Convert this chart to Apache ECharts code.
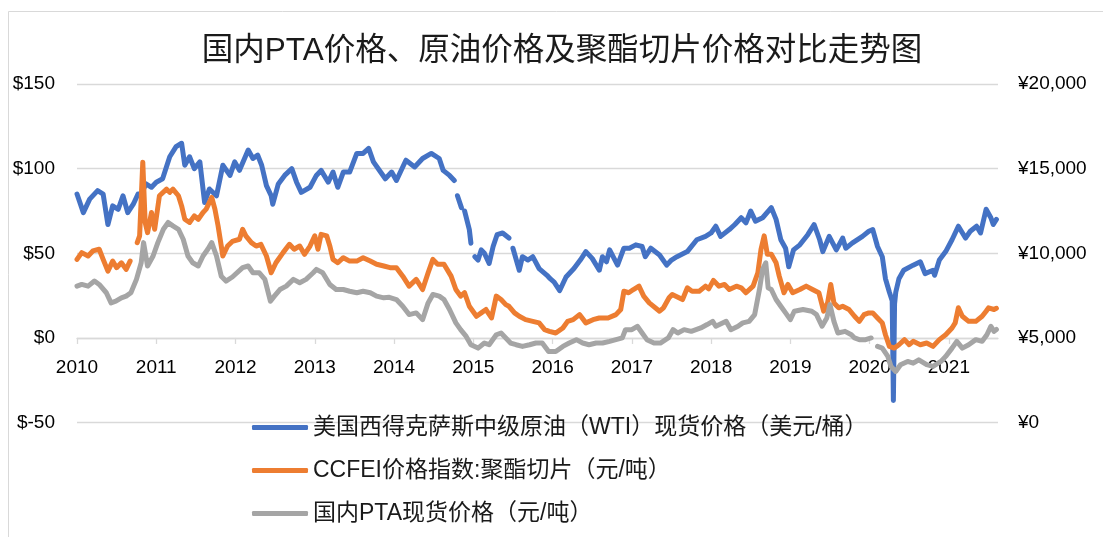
<!DOCTYPE html>
<html><head><meta charset="utf-8">
<script src="https://cdn.jsdelivr.net/npm/echarts@6/dist/echarts.min.js"></script>
<style>html,body{margin:0;padding:0;background:#fff}#c{width:1103px;height:537px}</style>
</head><body><div id="c"></div>
<script>
const chartTitle = '国内PTA价格、原油价格及聚酯切片价格对比走势图';
const seriesNames = ['美国西得克萨斯中级原油（WTI）现货价格（美元/桶）', 'CCFEI价格指数:聚酯切片（元/吨）', '国内PTA现货价格（元/吨）'];
const yearTicks = [2010, 2011, 2012, 2013, 2014, 2015, 2016, 2017, 2018, 2019, 2020, 2021];

// WTI spot, USD/bbl (left axis); null = gap in source data
const wtiDates = [2010.00,2010.08,2010.16,2010.26,2010.33,2010.39,2010.45,2010.52,2010.58,2010.64,2010.71,2010.77,2010.81,2010.87,2010.94,
2011.00,2011.08,2011.17,2011.25,2011.32,2011.36,2011.42,2011.48,2011.55,2011.61,2011.67,2011.76,2011.84,2011.93,2011.99,
2012.05,2012.16,2012.22,2012.28,2012.33,2012.39,2012.45,2012.47,2012.54,2012.62,2012.71,2012.77,2012.83,2012.94,
2013.02,2013.08,2013.17,2013.23,2013.29,2013.36,2013.44,2013.53,2013.61,2013.68,2013.74,2013.83,2013.89,2013.97,
2014.03,2014.15,2014.26,2014.36,2014.47,2014.57,2014.62,2014.70,2014.76,2014.78,2014.80,2014.85,2014.87,2014.89,2014.95,2014.97,2014.99,
2015.02,2015.06,2015.10,2015.14,2015.20,2015.25,2015.30,2015.37,2015.45,2015.47,2015.50,2015.58,2015.62,2015.69,2015.75,2015.83,2015.93,2015.97,
2016.02,2016.09,2016.17,2016.27,2016.35,2016.42,2016.50,2016.59,2016.63,2016.68,2016.72,2016.82,2016.90,2016.97,
2017.05,2017.13,2017.17,2017.24,2017.35,2017.44,2017.50,2017.57,2017.70,2017.82,2017.93,
2018.00,2018.06,2018.12,2018.23,2018.30,2018.38,2018.44,2018.50,2018.56,2018.65,2018.76,2018.82,2018.88,2018.94,2018.98,
2019.04,2019.12,2019.22,2019.30,2019.37,2019.41,2019.49,2019.58,2019.66,2019.70,2019.78,2019.91,2019.99,
2020.04,2020.10,2020.16,2020.20,2020.25,2020.285,2020.30,2020.315,2020.33,2020.37,2020.43,2020.55,2020.64,2020.70,2020.80,2020.82,2020.88,2020.96,
2021.04,2021.12,2021.21,2021.27,2021.35,2021.40,2021.47,2021.53,2021.56,2021.60];
const wtiPrices = [85,74,82,87,85,67,78,76,84,74,79,85,85,91,89,
92,94,107,113,115,102,107,100,104,80,88,84,102,96,104,
99,111,106,108,102,90,84,79,91,96,100,92,86,89,
96,99,92,98,89,98,98,109,109,112,104,98,94,98,
93,105,101,106,109,106,99,96,93,null,84,77,null,75,64,56,null,
48,46,52,50,44,54,61,62,59,null,53,40,48,46,48,41,37,35,
33,28,36,41,46,51,47,40,48,45,52,43,53,53,
55,54,48,53,49,43,46,48,51,58,60,
62,66,60,64,67,71,68,75,69,71,77,70,58,53,42,
52,55,61,67,58,51,60,52,59,53,56,60,63,
64,54,48,35,27,22,-37,20,27,35,40,43,45,38,40,37,46,51,
58,66,59,63,66,62,76,71,67,70];

// CCFEI polyester chip index, CNY/t (right axis)
const chipDates = [2010.00,2010.06,2010.14,2010.20,2010.28,2010.33,2010.39,2010.45,2010.50,2010.56,2010.62,2010.67,2010.72,2010.76,2010.79,2010.83,2010.86,2010.89,2010.94,2010.98,
2011.04,2011.13,2011.17,2011.21,2011.28,2011.32,2011.36,2011.42,2011.48,2011.53,2011.59,2011.63,2011.70,2011.74,2011.78,2011.84,2011.90,2011.96,
2012.05,2012.09,2012.13,2012.20,2012.26,2012.32,2012.39,2012.45,2012.51,2012.60,2012.68,2012.74,2012.81,2012.87,2012.94,
2013.00,2013.04,2013.08,2013.15,2013.19,2013.23,2013.29,2013.36,2013.44,2013.53,2013.61,2013.70,2013.78,2013.87,2013.95,
2014.03,2014.11,2014.19,2014.28,2014.36,2014.43,2014.49,2014.55,2014.63,2014.72,2014.78,2014.84,2014.89,2014.95,
2015.04,2015.10,2015.16,2015.23,2015.29,2015.35,2015.41,2015.45,2015.52,2015.58,2015.66,2015.75,2015.83,2015.90,2015.96,
2016.04,2016.13,2016.19,2016.26,2016.34,2016.42,2016.51,2016.59,2016.70,2016.80,2016.86,2016.90,2016.96,
2017.02,2017.09,2017.15,2017.22,2017.35,2017.40,2017.47,2017.51,2017.64,2017.70,2017.76,2017.85,2017.93,2017.97,
2018.03,2018.10,2018.17,2018.23,2018.32,2018.38,2018.44,2018.53,2018.59,2018.63,2018.67,2018.71,2018.76,2018.82,2018.86,2018.92,2018.97,
2019.03,2019.12,2019.20,2019.28,2019.36,2019.42,2019.47,2019.51,2019.55,2019.61,2019.66,2019.74,2019.81,2019.87,2019.93,2019.99,
2020.04,2020.10,2020.16,2020.20,2020.25,2020.31,2020.37,2020.44,2020.50,2020.55,2020.64,2020.72,2020.80,2020.88,2020.96,
2021.04,2021.08,2021.12,2021.17,2021.25,2021.34,2021.42,2021.47,2021.50,2021.57,2021.60];
const chipPrices = [9640,10040,9840,10140,10240,9640,8950,9540,9150,9440,9050,9540,null,10630,11030,15380,11820,11220,12410,11420,
13400,13790,13600,13790,13400,12800,12010,11820,12210,12010,12410,12610,13300,12610,11620,9840,10430,10700,
10830,11420,11030,10630,10430,10530,9840,8850,9440,10040,10530,10240,10430,9940,10430,
11030,10240,11120,11030,10430,9640,9440,9740,9540,9540,9740,9540,9350,9250,9150,
9150,8650,8060,8460,7860,8850,9640,9350,9350,8650,7860,7470,7670,6870,
6280,6480,6680,6180,7470,7270,6970,6870,6480,6280,6080,5980,5890,5490,5390,
5290,5590,5980,6080,6380,5890,6080,6180,6180,6380,6680,7760,7670,
7860,8060,7470,7070,6580,6780,7370,7570,7270,7960,7760,7760,8060,7900,
8400,8060,8160,7860,8060,7960,7670,8060,8850,10240,11030,9940,9940,9440,8650,7670,8160,
7670,7860,8060,7860,7670,6580,7070,8160,7070,6780,6870,6680,6280,5980,6380,6480,
6480,6180,5890,5190,4500,4400,4600,4900,4600,4800,4600,4700,4500,4900,5190,
5590,5890,6780,6280,5980,5980,6280,6580,6780,6680,6750];

// Domestic PTA spot, CNY/t (right axis)
const ptaDates = [2010.00,2010.06,2010.14,2010.22,2010.28,2010.37,2010.43,2010.49,2010.56,2010.62,2010.68,2010.75,2010.81,2010.84,2010.89,2010.96,
2011.02,2011.09,2011.15,2011.21,2011.28,2011.34,2011.40,2011.46,2011.53,2011.59,2011.65,2011.70,2011.76,2011.82,2011.88,2011.96,
2012.09,2012.16,2012.22,2012.30,2012.37,2012.44,2012.49,2012.56,2012.64,2012.73,2012.81,2012.89,2012.98,
2013.02,2013.10,2013.19,2013.27,2013.36,2013.44,2013.53,2013.61,2013.70,2013.78,2013.87,2013.94,
2014.03,2014.11,2014.19,2014.28,2014.36,2014.43,2014.49,2014.57,2014.63,2014.70,2014.78,2014.84,2014.91,2014.97,
2015.06,2015.14,2015.20,2015.29,2015.35,2015.41,2015.47,2015.54,2015.62,2015.71,2015.79,2015.87,2015.95,
2016.04,2016.13,2016.21,2016.30,2016.38,2016.46,2016.55,2016.63,2016.72,2016.80,2016.88,2016.92,
2017.00,2017.07,2017.13,2017.19,2017.28,2017.36,2017.46,2017.52,2017.58,2017.66,2017.75,2017.87,2017.95,
2018.02,2018.06,2018.19,2018.25,2018.34,2018.40,2018.48,2018.55,2018.61,2018.65,2018.69,2018.72,2018.76,2018.82,2018.88,2018.94,
2019.00,2019.05,2019.16,2019.27,2019.33,2019.40,2019.46,2019.50,2019.55,2019.60,2019.69,2019.77,2019.81,2019.87,2019.95,
2020.02,2020.06,2020.10,2020.16,2020.23,2020.27,2020.33,2020.39,2020.48,2020.55,2020.62,2020.72,2020.80,2020.90,2020.96,
2021.04,2021.10,2021.17,2021.25,2021.34,2021.42,2021.48,2021.53,2021.57,2021.60];
const ptaPrices = [8060,8160,8060,8360,8160,7670,7070,7170,7370,7470,7670,8460,9440,10630,9250,9840,
10630,11420,11820,11620,11420,10830,9840,9440,9250,9840,10240,10630,9840,8650,8360,8600,
9150,9250,8850,8850,8460,7170,7470,7860,8060,8460,8260,8460,8850,
9050,8850,8160,7860,7860,7760,7670,7760,7670,7470,7370,7400,
7270,6870,6380,6480,6080,7070,7570,7470,7270,6680,5890,5490,5090,4600,
4400,4700,4600,5190,5290,5000,4700,4600,4500,4600,4700,4700,4200,
4200,4500,4700,4900,4700,4600,4700,4700,4800,4900,5000,5490,
5490,5690,5290,4900,4700,4700,5000,5490,5290,5490,5390,5590,5790,
5980,5690,5980,5490,5690,5890,5980,6380,7860,9050,9440,7960,7860,7270,6870,6480,
6080,6580,6680,6580,6380,5690,6180,6970,5980,5290,5390,5190,5000,4900,4900,
5000,null,4500,4400,3910,3320,3020,3420,3610,3510,3710,3420,3320,3610,3910,
4400,4800,4400,4600,4900,4800,5190,5690,5390,5500];

const zip = (xs, ys) => xs.map((x, i) => [x, ys[i]]);
const FONT = '"Liberation Sans", Arial, "Noto Sans CJK SC", sans-serif';

const chart = echarts.init(document.getElementById('c'), null, {renderer: 'canvas'});
const lineSeries = (name, data, color, yAxisIndex) => ({
  name, type: 'line', yAxisIndex, data, symbol: 'none', showSymbol: false,
  connectNulls: false, smooth: false,
  lineStyle: {width: 5, color, cap: 'round', join: 'round'},
  itemStyle: {color}, emphasis: {disabled: true}
});

const GRID_TOP = 84, GRID_H = 338.6;
const zeroOffset = -(GRID_H * 50 / 200); // move x axis up from the -50 line to the 0 line

chart.setOption({
  animation: false,
  backgroundColor: '#fff',
  grid: {left: 77, right: 105, top: GRID_TOP, height: GRID_H, containLabel: false},
  xAxis: {
    type: 'value', min: 2010, max: 2021.62, interval: 1, position: 'bottom', offset: zeroOffset,
    axisLine: {show: true, onZero: false, lineStyle: {color: '#d9d9d9', width: 1.3}},
    axisTick: {show: true, length: 6, customValues: yearTicks, lineStyle: {color: '#d9d9d9', width: 1.3}},
    axisLabel: {customValues: yearTicks, formatter: v => String(v), margin: 20, fontSize: 19, color: '#000', fontFamily: FONT},
    splitLine: {show: false}
  },
  yAxis: [{
    type: 'value', position: 'left', min: -50, max: 150, interval: 50,
    axisLine: {show: false}, axisTick: {show: false},
    axisLabel: {formatter: v => '$' + v, margin: 22, fontSize: 19, color: '#000', fontFamily: FONT},
    splitLine: {show: true, lineStyle: {color: '#d9d9d9', width: 1.3}}
  }, {
    type: 'value', position: 'right', min: 0, max: 20000, interval: 5000,
    axisLine: {show: false, onZero: false}, axisTick: {show: false},
    axisLabel: {formatter: v => '¥' + v.toLocaleString('en-US'), margin: 20, fontSize: 19, color: '#000', fontFamily: FONT},
    splitLine: {show: false}
  }],
  legend: {
    orient: 'vertical', left: 252, top: 416, padding: 0,
    itemWidth: 56, itemHeight: 5, itemGap: 20, icon: 'roundRect',
    data: seriesNames,
    textStyle: {fontSize: 23, lineHeight: 23, color: '#1a1a1a', fontFamily: FONT}
  },
  graphic: [
    {type: 'rect', silent: true, z: -10, shape: {x: 8.5, y: 11.5, width: 1200, height: 700},
     style: {fill: 'none', stroke: '#d9d9d9', lineWidth: 1}},
    {type: 'text', silent: true, x: 562, y: 51,
     style: {text: chartTitle, font: '31.5px ' + FONT, fill: '#1a1a1a', align: 'center', verticalAlign: 'middle'}}
  ],
  series: [
    lineSeries(seriesNames[0], zip(wtiDates, wtiPrices), '#4472C4', 0),
    lineSeries(seriesNames[1], zip(chipDates, chipPrices), '#ED7D31', 1),
    lineSeries(seriesNames[2], zip(ptaDates, ptaPrices), '#A5A5A5', 1)
  ]
});
</script>
</body></html>
